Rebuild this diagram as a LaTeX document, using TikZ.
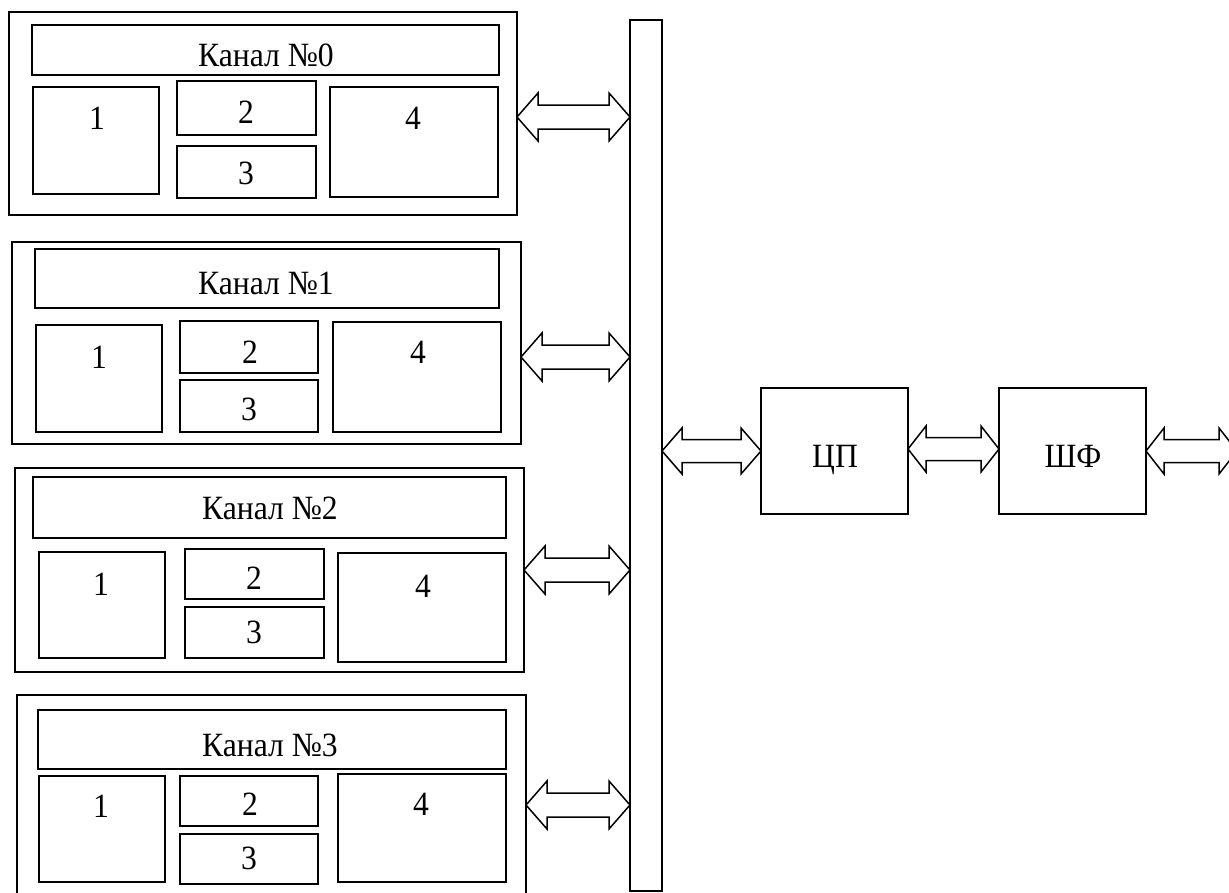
\documentclass[tikz,border=0pt]{standalone}
\usepackage{fontspec}
\setmainfont{Liberation Serif}[FakeStretch=0.93]
\usetikzlibrary{calc}
\tikzset{
  blk/.style={draw, line width=1.7pt, inner sep=0pt, outer sep=0pt},
  txt/.style={inner sep=0pt, outer sep=0pt, font=\fontsize{34}{40}\selectfont},
  conn/.style={draw, line width=1.5pt, line join=miter},
}
% box node from pixel corners: name, x1, y1, x2, y2
\newcommand\blkbox[5]{%
  \node[blk, minimum width={(#4-#2)*1pt}, minimum height={(#5-#3)*1pt}]
    (#1) at ({(#2+#4)/2},{(#3+#5)/2}) {};}
% double block arrow: left point, right point, y (px), head length, head half height, shaft half height
\newcommand\blockarrow[6]{%
  \draw[conn] let \p1=(#1), \p2=(#2), \p3=(0,#3) in
    (\x1,\y3) -- (\x1+#4pt,\y3+#5pt) -- (\x1+#4pt,\y3+#6pt)
    -- (\x2-#4pt,\y3+#6pt) -- (\x2-#4pt,\y3+#5pt) -- (\x2,\y3)
    -- (\x2-#4pt,\y3-#5pt) -- (\x2-#4pt,\y3-#6pt)
    -- (\x1+#4pt,\y3-#6pt) -- (\x1+#4pt,\y3-#5pt) -- cycle;}
\begin{document}
\begin{tikzpicture}[x=1pt, y=-1pt]
\useasboundingbox (0,0) rectangle (1229,892);
\fill[white] (0,0) rectangle (1229,892);
\clip (0,0) rectangle (1229,892);

% ---- Channel 0
\blkbox{c0}{9}{12}{517}{215}
\blkbox{c0t}{32}{25}{499}{75}
\blkbox{c0a}{33}{87}{159}{194}
\blkbox{c0b}{177}{81}{316}{135}
\blkbox{c0c}{177}{146}{316}{198}
\blkbox{c0d}{330}{87}{498}{197}
\node[txt] (c0tl) at (266,55) {Канал №0};
\node[txt] (c0al) at (97,118) {1};
\node[txt] (c0bl) at (246,112) {2};
\node[txt] (c0cl) at (246,173) {3};
\node[txt] (c0dl) at (413,118) {4};

% ---- Channel 1
\blkbox{c1}{12}{242}{521}{444}
\blkbox{c1t}{35}{249}{499}{308}
\blkbox{c1a}{36}{325}{162}{432}
\blkbox{c1b}{180}{321}{318}{373}
\blkbox{c1c}{180}{380}{318}{432}
\blkbox{c1d}{333}{322}{501}{432}
\node[txt] (c1tl) at (266,283) {Канал №1};
\node[txt] (c1al) at (99,357) {1};
\node[txt] (c1bl) at (250,352) {2};
\node[txt] (c1cl) at (249,409) {3};
\node[txt] (c1dl) at (418,352) {4};

% ---- Channel 2
\blkbox{c2}{15}{468}{524}{672}
\blkbox{c2t}{33}{477}{506}{538}
\blkbox{c2a}{39}{552}{165}{658}
\blkbox{c2b}{185}{549}{324}{599}
\blkbox{c2c}{185}{607}{324}{658}
\blkbox{c2d}{338}{553}{506}{662}
\node[txt] (c2tl) at (270,508) {Канал №2};
\node[txt] (c2al) at (101,584) {1};
\node[txt] (c2bl) at (254,578) {2};
\node[txt] (c2cl) at (254,632) {3};
\node[txt] (c2dl) at (423,586) {4};

% ---- Channel 3
\blkbox{c3}{17}{695}{526}{910}
\blkbox{c3t}{38}{710}{506}{769}
\blkbox{c3a}{39}{776}{165}{882}
\blkbox{c3b}{180}{776}{318}{826}
\blkbox{c3c}{180}{834}{318}{884}
\blkbox{c3d}{338}{774}{506}{882}
\node[txt] (c3tl) at (270,745) {Канал №3};
\node[txt] (c3al) at (101,806) {1};
\node[txt] (c3bl) at (250,804) {2};
\node[txt] (c3cl) at (249,858) {3};
\node[txt] (c3dl) at (421,804) {4};

% ---- Bus, CPU, interface
\blkbox{bus}{630}{20}{662}{891}
\blkbox{cp}{761}{388}{908}{514}
\blkbox{sf}{999}{388}{1146}{514}
\node[txt, anchor=base] (cpl) at (835,467) {ЦП};
\node[txt, anchor=base] (sfl) at (1073,467) {ШФ};
\coordinate (out) at (1237,451);

% ---- Connectors
\blockarrow{c0.east}{bus.west}{117}{21}{24}{12}
\blockarrow{c1.east}{bus.west}{357}{21}{24}{12}
\blockarrow{c2.east}{bus.west}{570}{21}{24}{12}
\blockarrow{c3.east}{bus.west}{805}{21}{24}{12}
\blockarrow{bus.east}{cp.west}{451}{20}{23}{11.5}
\blockarrow{cp.east}{sf.west}{449}{18}{23}{11.5}
\blockarrow{sf.east}{out}{451}{18}{23}{11.5}
\end{tikzpicture}
\end{document}
